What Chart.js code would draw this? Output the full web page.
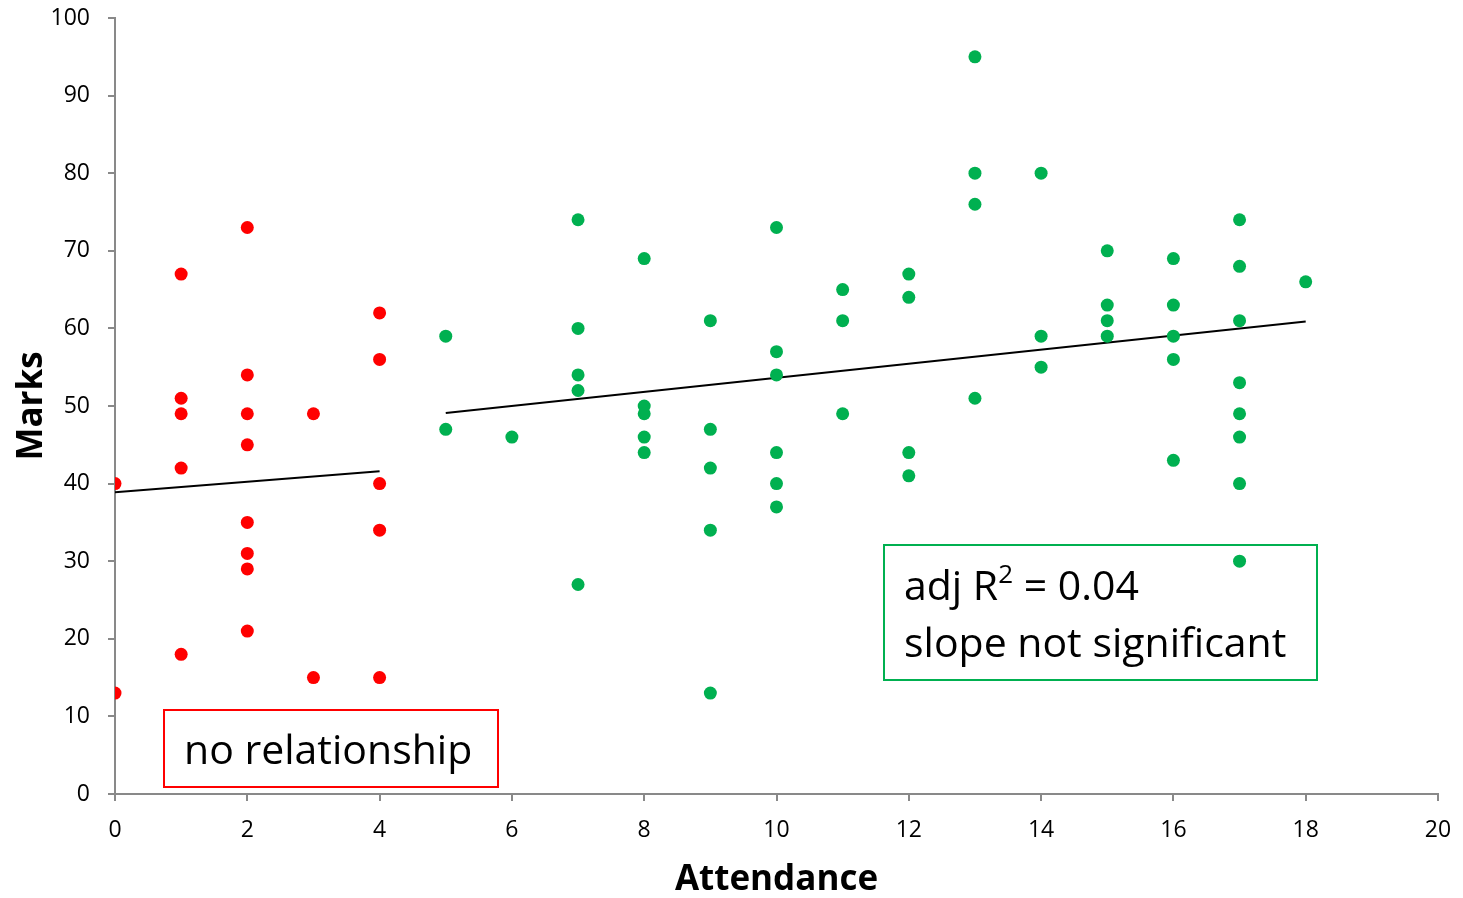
<!DOCTYPE html>
<html>
<head>
<meta charset="utf-8">
<script src="https://cdn.jsdelivr.net/npm/chart.js@4/dist/chart.umd.min.js"></script>
<style>
  html, body { margin: 0; padding: 0; background: #fff; }
  .wrap { position: relative; width: 1463px; height: 898px; }
  canvas { display: block; }
  .note {
    position: absolute;
    font-family: "Open Sans", "Noto Sans", sans-serif;
    font-size: 41px;
    color: #000;
    box-sizing: border-box;
    line-height: 57px;
  }
  .note-red { left: 163px; top: 709px; width: 336px; height: 79px; border: 2px solid #ff0000; padding: 9px 0 0 19px; white-space: nowrap; }
  .note-green { left: 883px; top: 544px; width: 435px; height: 137px; border: 2px solid #00b050; padding: 10px 0 0 19px; white-space: nowrap; }
  .note sup { font-size: 26px; line-height: 0; vertical-align: 17px; }
</style>
</head>
<body>
<div class="wrap">
  <canvas id="graphic" width="1463" height="898"></canvas>
  <div class="note note-red">no relationship</div>
  <div class="note note-green">adj R<sup>2</sup> = 0.04<br>slope not significant</div>
</div>
<script>
// low attendance (0-4), red
const lowAttendance = [0, 0, 1, 1, 1, 1, 1, 2, 2, 2, 2, 2, 2, 2, 2, 3, 3, 4, 4, 4, 4, 4];
const lowMarks = [40, 13, 67, 51, 49, 42, 18, 73, 54, 49, 45, 35, 31, 29, 21, 49, 15, 62, 56, 40, 34, 15];

// higher attendance (5-18), green
const highAttendance = [
  5, 5, 6,
  7, 7, 7, 7, 7,
  8, 8, 8, 8, 8,
  9, 9, 9, 9, 9,
  10, 10, 10, 10, 10, 10,
  11, 11, 11,
  12, 12, 12, 12,
  13, 13, 13, 13,
  14, 14, 14,
  15, 15, 15, 15,
  16, 16, 16, 16, 16,
  17, 17, 17, 17, 17, 17, 17, 17,
  18
];
const highMarks = [
  59, 47, 46,
  74, 60, 54, 52, 27,
  69, 50, 49, 46, 44,
  61, 47, 42, 34, 13,
  73, 57, 54, 44, 40, 37,
  65, 61, 49,
  67, 64, 44, 41,
  95, 80, 76, 51,
  80, 59, 55,
  70, 63, 61, 59,
  69, 63, 59, 56, 43,
  74, 68, 61, 53, 49, 46, 40, 30,
  66
];

// fitted lines
const lowFitX = [0, 4];
const lowFitY = [38.9, 41.6];
const highFitX = [5, 18];
const highFitY = [49.1, 60.9];

const xTicks = [0, 2, 4, 6, 8, 10, 12, 14, 16, 18, 20];
const yTicks = [0, 10, 20, 30, 40, 50, 60, 70, 80, 90, 100];

const toPoints = (xs, ys) => xs.map((x, i) => ({ x, y: ys[i] }));

const axisGray = "#898989";
const tickFont = { family: "'Open Sans', 'Noto Sans', sans-serif", size: 23 };
const titleFont = { family: "'Open Sans', 'Noto Sans', sans-serif", size: 35, weight: "bold", lineHeight: 1.0 };

const graphicElement = document.getElementById("graphic");

const graphicChart = new Chart(graphicElement, {
  type: "scatter",
  data: {
    datasets: [
      {
        label: "low",
        data: toPoints(lowAttendance, lowMarks),
        backgroundColor: "#ff0000",
        borderWidth: 0,
        pointRadius: 6.5,
      },
      {
        label: "high",
        data: toPoints(highAttendance, highMarks),
        backgroundColor: "#00b050",
        borderWidth: 0,
        pointRadius: 6.5,
      },
      {
        label: "low fit",
        type: "line",
        data: toPoints(lowFitX, lowFitY),
        borderColor: "#000",
        borderWidth: 2,
        pointRadius: 0,
        fill: false,
      },
      {
        label: "high fit",
        type: "line",
        data: toPoints(highFitX, highFitY),
        borderColor: "#000",
        borderWidth: 2,
        pointRadius: 0,
        fill: false,
      },
    ],
  },
  options: {
    responsive: false,
    animation: false,
    events: [],
    layout: { padding: { top: 18, right: 25, left: 0, bottom: 0 } },
    plugins: {
      legend: { display: false },
      tooltip: { enabled: false },
    },
    scales: {
      x: {
        type: "linear",
        min: 0,
        max: 20,
        afterBuildTicks: (scale) => {
          scale.ticks = xTicks.map((v) => ({ value: v }));
        },
        afterFit: (scale) => {
          scale.height = 104;
          scale.paddingLeft = 0;
          scale.paddingRight = 0;
        },
        grid: {
          drawOnChartArea: false,
          color: axisGray,
          tickLength: 7,
          lineWidth: 2,
        },
        border: { color: axisGray, width: 2 },
        ticks: { color: "#000", font: tickFont, padding: 16, maxRotation: 0 },
        title: {
          display: true,
          text: "Attendance",
          color: "#000",
          font: titleFont,
          padding: { top: 0, bottom: 0 },
        },
      },
      y: {
        type: "linear",
        min: 0,
        max: 100,
        afterBuildTicks: (scale) => {
          scale.ticks = yTicks.map((v) => ({ value: v }));
        },
        afterFit: (scale) => {
          scale.width = 115;
          scale.paddingTop = 0;
          scale.paddingBottom = 0;
        },
        grid: {
          drawOnChartArea: false,
          color: axisGray,
          tickLength: 7,
          lineWidth: 2,
        },
        border: { color: axisGray, width: 2 },
        ticks: { color: "#000", font: tickFont, padding: 18 },
        title: {
          display: true,
          text: "Marks",
          color: "#000",
          font: titleFont,
          padding: { top: 15, bottom: 0 },
        },
      },
    },
  },
});
</script>
</body>
</html>
